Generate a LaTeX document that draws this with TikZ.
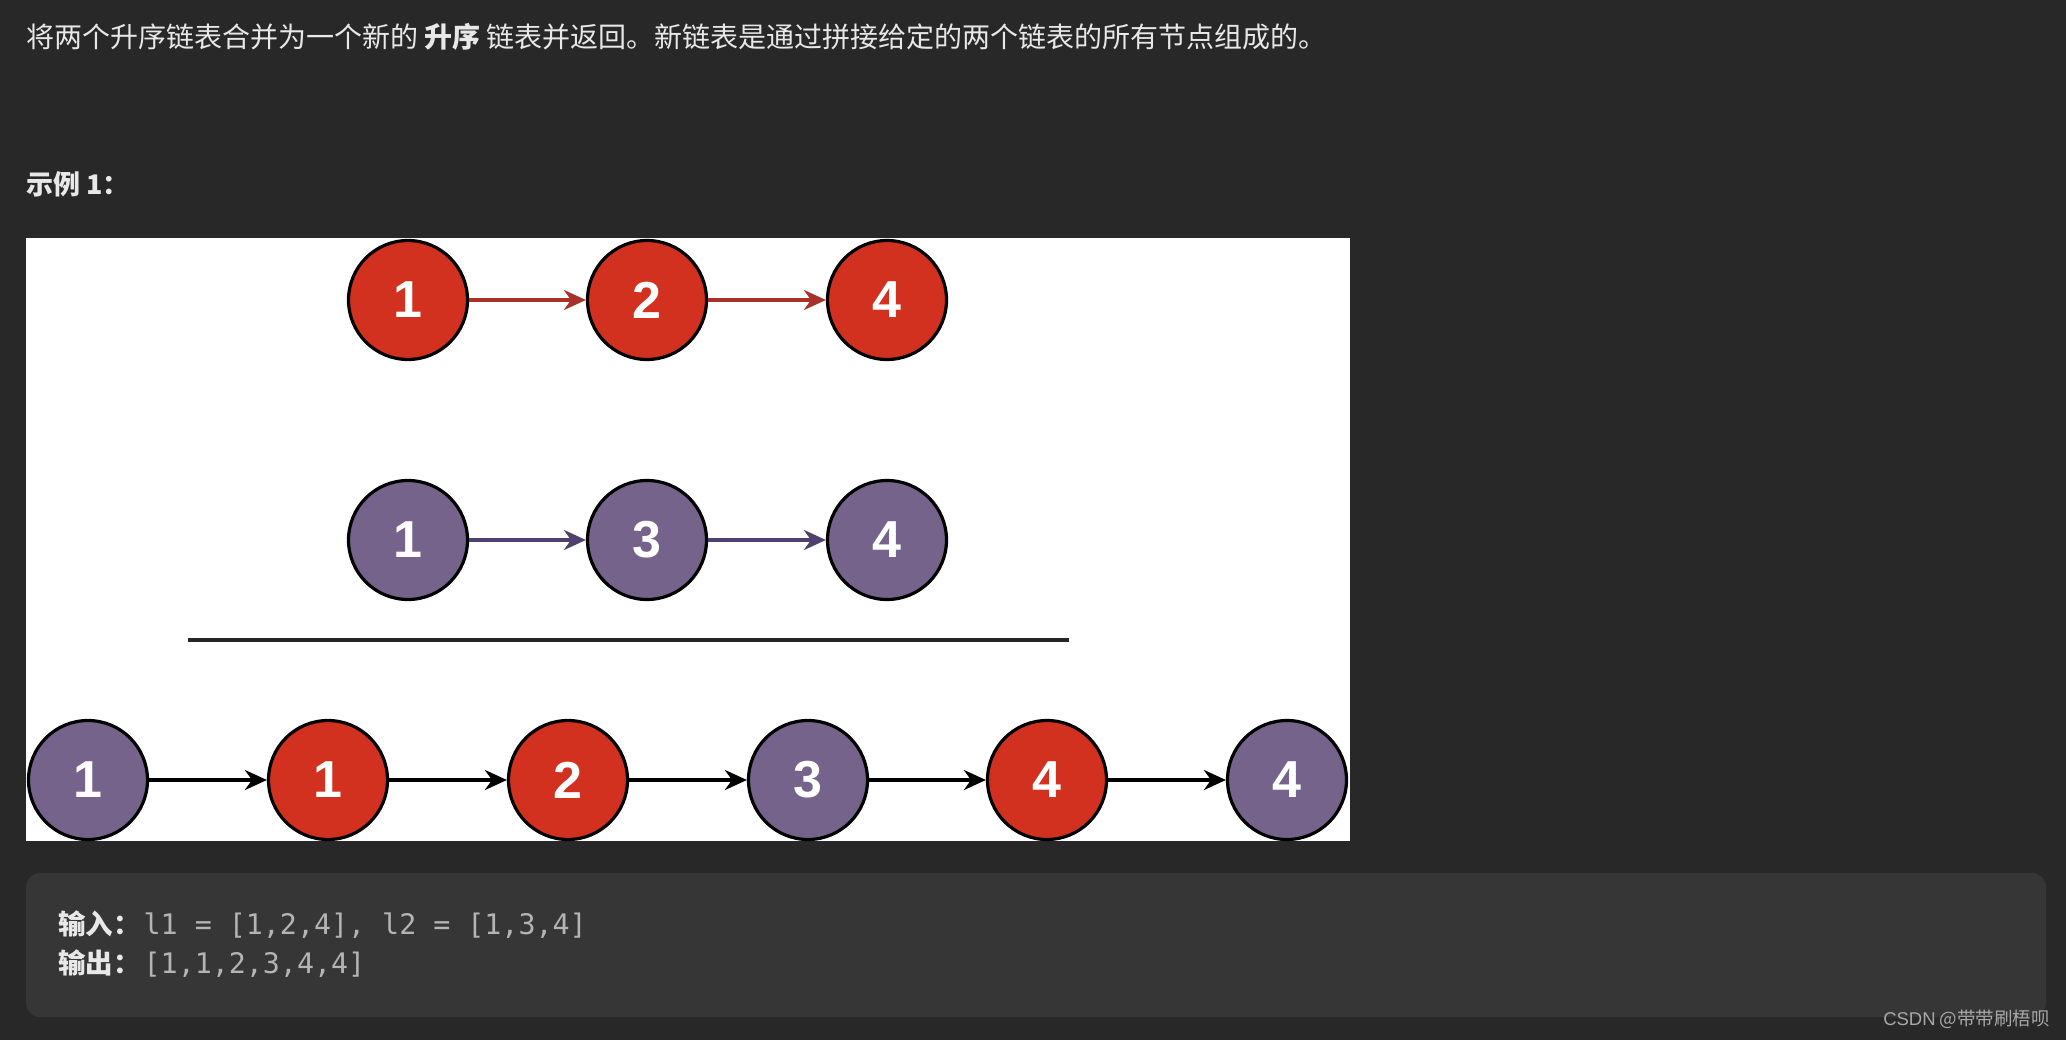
\documentclass[tikz,border=0pt]{standalone}
\usepackage{fontspec}
\setmainfont{Noto Sans CJK SC}
\newfontfamily\numfont{Liberation Sans}
\newfontfamily\monofont{DejaVu Sans Mono}
\usetikzlibrary{arrows.meta}
\definecolor{bg}{HTML}{282828}
\definecolor{codebg}{HTML}{363636}
\definecolor{txt}{HTML}{E8E8E8}
\definecolor{codetxt}{HTML}{B4B4B4}
\definecolor{redfill}{HTML}{D3311F}
\definecolor{purfill}{HTML}{75638C}
\definecolor{redarrow}{HTML}{A8312A}
\definecolor{purarrow}{HTML}{4E4170}
\definecolor{wm}{HTML}{A8A8A8}
\tikzset{
  lnode/.style={circle, draw=black, line width=3.2pt, minimum size=119pt, inner sep=0pt,
    text=white, font=\numfont\fontsize{52}{52}\selectfont\bfseries},
  rednode/.style={lnode, fill=redfill},
  purnode/.style={lnode, fill=purfill},
  link/.style={line width=3.6pt, -{Stealth[length=22pt,width=20pt]}},
  bodytext/.style={anchor=west, inner sep=0pt, text=txt, font=\fontsize{28}{33}\selectfont},
}
\begin{document}
\begin{tikzpicture}[x=1pt,y=-1pt]
\fill[bg] (0,0) rectangle (2066,1040);
\useasboundingbox (0,0) rectangle (2066,1040);
% heading texts
\node[bodytext] (title) at (26,37) {将两个升序链表合并为一个新的 \textbf{升序} 链表并返回。新链表是通过拼接给定的两个链表的所有节点组成的。};
\node[bodytext, font=\fontsize{27}{31}\selectfont\bfseries] (ex) at (26,184) {示例 1：};
% white picture
\fill[white] (26,238) rectangle (1350,841);
\begin{scope}
\clip (26,238) rectangle (1350,841);
\node[rednode] (a1) at (408,300) {1};
\node[rednode] (a2) at (647,300) {2};
\node[rednode] (a3) at (887,300) {4};
\node[purnode] (b1) at (408,540) {1};
\node[purnode] (b2) at (647,540) {3};
\node[purnode] (b3) at (887,540) {4};
\draw[link, redarrow] (a1) -- (a2);
\draw[link, redarrow] (a2) -- (a3);
\draw[link, purarrow] (b1) -- (b2);
\draw[link, purarrow] (b2) -- (b3);
\coordinate (ls) at (188,640);
\coordinate (le) at (1069,640);
\draw[line width=3.2pt, black!85] (ls) -- (le);
\node[purnode] (c1) at (88,780) {1};
\node[rednode] (c2) at (328,780) {1};
\node[rednode] (c3) at (568,780) {2};
\node[purnode] (c4) at (808,780) {3};
\node[rednode] (c5) at (1047,780) {4};
\node[purnode] (c6) at (1287,780) {4};
\draw[link] (c1) -- (c2);
\draw[link] (c2) -- (c3);
\draw[link] (c3) -- (c4);
\draw[link] (c4) -- (c5);
\draw[link] (c5) -- (c6);
\end{scope}
% code box
\fill[codebg, rounded corners=14pt] (26,873) rectangle (2046,1017);
\node[bodytext, font=\fontsize{27.5}{33}\selectfont] (in) at (58,925) {\textbf{输入：}\hspace{3pt}{\monofont\fontsize{28.3}{33}\selectfont\color{codetxt}l1 = [1,2,4], l2 = [1,3,4]}};
\node[bodytext, font=\fontsize{27.5}{33}\selectfont] (out) at (58,964) {\textbf{输出：}\hspace{3pt}{\monofont\fontsize{28.3}{33}\selectfont\color{codetxt}[1,1,2,3,4,4]}};
% watermark
\node[anchor=east, inner sep=0pt, text=wm, font=\fontsize{18.5}{22}\selectfont] (wmk) at (2050,1019) {{\numfont CSDN} @带带刷梧呗};
\end{tikzpicture}
\end{document}
